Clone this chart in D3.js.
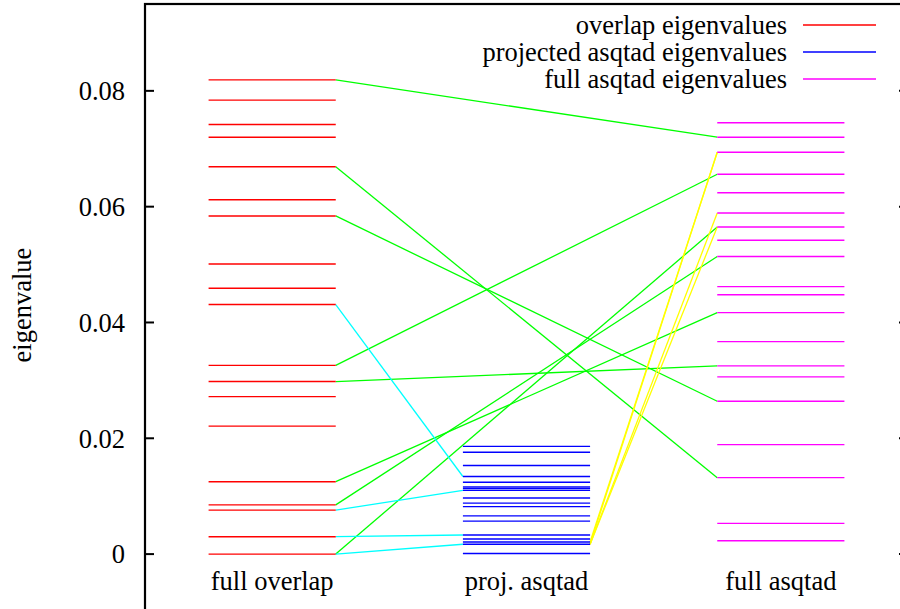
<!DOCTYPE html>
<html><head><meta charset="utf-8">
<script src="https://cdn.jsdelivr.net/npm/d3@7"></script>
<style>body{margin:0;background:#fff}svg{display:block}</style>
</head><body><svg id="c" width="900" height="609" font-family="'Liberation Serif', 'Times New Roman', serif"></svg>
<script>
const categories = ["full overlap", "proj. asqtad", "full asqtad"];
const overlapVals = [0.0819,0.0784,0.0742,0.0720,0.0669,0.0612,0.0584,0.0501,0.0459,0.0431,0.0326,0.0298,0.0272,0.0221,0.0125,0.0085,0.0076,0.0030,0.0000];
const projVals = [0.0186,0.0176,0.0153,0.0134,0.0124,0.0116,0.0113,0.0110,0.0097,0.0088,0.0082,0.0066,0.0057,0.0033,0.0026,0.0021,0.0017,0.0001];
const fullVals = [0.0745,0.0720,0.0694,0.0656,0.0624,0.0589,0.0565,0.0542,0.0514,0.0462,0.0448,0.0417,0.0367,0.0325,0.0306,0.0264,0.0189,0.0132,0.0053,0.0023];
// connections: [from value, to value]
const greenLinks = [[0.0819,0.0720],[0.0669,0.0132],[0.0584,0.0264],[0.0326,0.0656],[0.0298,0.0325],[0.0125,0.0417],[0.0085,0.0514],[0.0000,0.0565]];
const cyanLinks = [[0.0431,0.0134],[0.0076,0.0110],[0.0030,0.0033],[0.0000,0.0017]];
const yellowLinks = [[0.0017,0.0694],[0.0021,0.0694],[0.0017,0.0589],[0.0017,0.0565]];
const yTicks = [0, 0.02, 0.04, 0.06, 0.08];
const legendLabels = ["overlap eigenvalues", "projected asqtad eigenvalues", "full asqtad eigenvalues"];

const svg = d3.select("#c");
const x = d3.scaleLinear().domain([0.5, 3.5]).range([145, 908]);
const y = d3.scaleLinear().domain([-0.01, 0.095]).range([612, 4]);
const hw = 0.25;
const colors = ["#ff0000", "#0000ff", "#ff00ff"];
const series = [overlapVals, projVals, fullVals];
const FS = 26.5;

function links(data, i0, i1, col) {
  svg.append("g").selectAll("line").data(data).join("line")
    .attr("x1", x(i0 + hw)).attr("x2", x(i1 - hw))
    .attr("y1", d => y(d[0])).attr("y2", d => y(d[1]))
    .attr("stroke", col).attr("stroke-width", 1.3);
}
links(greenLinks, 1, 3, "#00ff00");
links(cyanLinks, 1, 2, "#00ffff");
links(yellowLinks, 2, 3, "#ffff00");

series.forEach((vals, i) => {
  svg.append("g").selectAll("line").data(vals).join("line")
    .attr("x1", x(i + 1 - hw)).attr("x2", x(i + 1 + hw))
    .attr("y1", d => y(d)).attr("y2", d => y(d))
    .attr("stroke", colors[i]).attr("stroke-width", 1.4);
});

svg.append("rect").attr("x", x(0.5)).attr("y", y(0.095)).attr("width", x(3.5) - x(0.5)).attr("height", y(-0.01) - y(0.095))
  .attr("fill", "none").attr("stroke", "#000").attr("stroke-width", 2.2);

const ticks = svg.append("g");
ticks.selectAll(".tl").data(yTicks).join("line").attr("class", "tl")
  .attr("x1", x(0.5)).attr("x2", x(0.5) + 9).attr("y1", d => y(d)).attr("y2", d => y(d))
  .attr("stroke", "#000").attr("stroke-width", 2);
ticks.selectAll(".tr").data(yTicks).join("line").attr("class", "tr")
  .attr("x1", x(3.5)).attr("x2", x(3.5) - 9).attr("y1", d => y(d)).attr("y2", d => y(d))
  .attr("stroke", "#000").attr("stroke-width", 2);
ticks.selectAll("text").data(yTicks).join("text")
  .attr("x", x(0.5) - 20).attr("y", d => y(d)).attr("dy", "0.35em")
  .attr("text-anchor", "end").attr("font-size", FS)
  .text(d => d === 0 ? "0" : d3.format(".2f")(d));

svg.append("text").attr("transform", `translate(31,${y(0.043)}) rotate(-90)`)
  .attr("text-anchor", "middle").attr("font-size", FS).text("eigenvalue");

svg.append("g").selectAll("text").data(categories).join("text")
  .attr("x", (d, i) => x(i + 1)).attr("y", 590)
  .attr("text-anchor", "middle").attr("font-size", FS).text(d => d);

const lg = svg.append("g");
legendLabels.forEach((t, i) => {
  const ly = 25 + i * 27;
  lg.append("text").attr("x", 787).attr("y", ly).attr("dy", "0.33em")
    .attr("text-anchor", "end").attr("font-size", FS).text(t);
  lg.append("line").attr("x1", 803).attr("x2", 876).attr("y1", ly).attr("y2", ly)
    .attr("stroke", colors[i]).attr("stroke-width", 1.4);
});
</script></body></html>
